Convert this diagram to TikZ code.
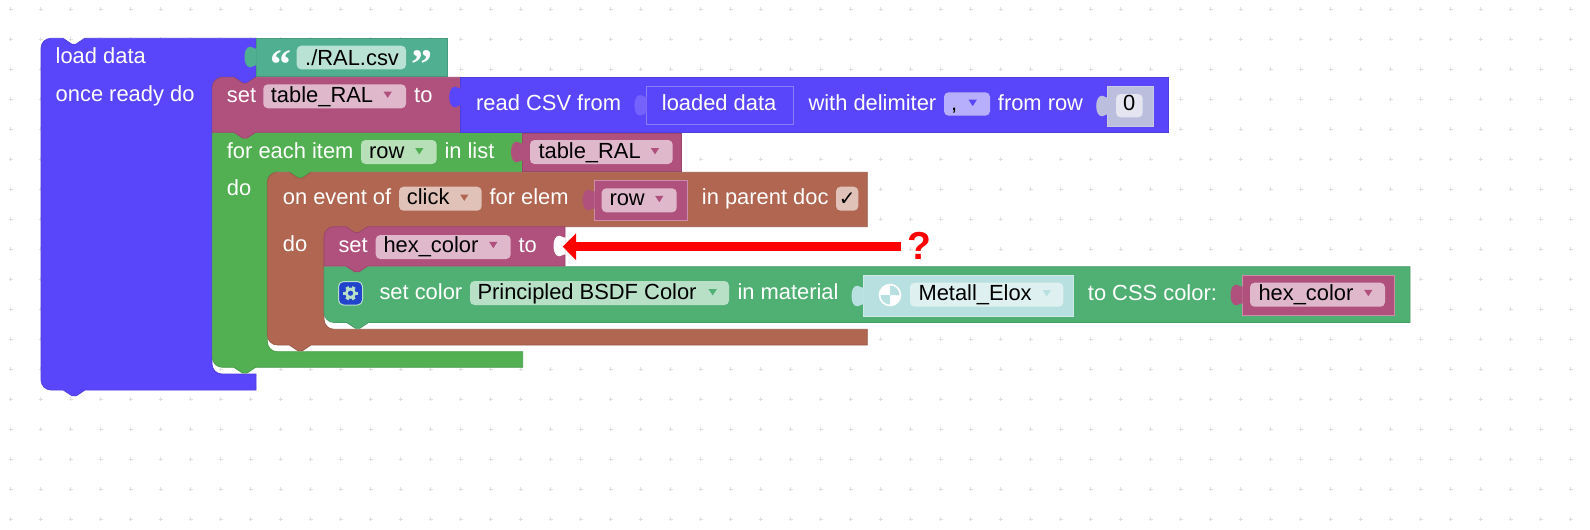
\documentclass[tikz,border=0pt]{standalone}
\usepackage{fontspec}
\setmainfont{Liberation Sans}
\newfontfamily\chkfont{DejaVu Sans}
\newfontfamily\quotefont{Liberation Serif}
\usetikzlibrary{arrows.meta}
\definecolor{cBlue}{RGB}{90,70,250}
\definecolor{cTeal}{RGB}{80,175,145}
\definecolor{cPink}{RGB}{176,80,125}
\definecolor{cGreen}{RGB}{82,176,82}
\definecolor{cBrown}{RGB}{176,102,80}
\definecolor{cMid}{RGB}{80,176,115}
\definecolor{cMetal}{RGB}{184,224,224}
\definecolor{cGrey}{RGB}{187,190,221}
\definecolor{fTeal}{RGB}{185,225,212}
\definecolor{fPink}{RGB}{224,184,204}
\definecolor{fGreen}{RGB}{184,224,184}
\definecolor{fBrown}{RGB}{224,194,184}
\definecolor{fBlue}{RGB}{184,175,252}
\definecolor{fMid}{RGB}{184,224,199}
\definecolor{fMetal}{RGB}{222,240,240}
\definecolor{fGrey}{RGB}{228,229,241}
\definecolor{cGear}{RGB}{34,68,204}
\tikzset{
  x=1pt,y=-1pt,
  blk/.style={fill=#1,draw=#1!88!black,line width=.7pt},
  notchR/.style={insert path={-- ++(8.7,5.8) -- ++(4.35,0) -- ++(8.7,-5.8)}},
  notchL/.style={insert path={-- ++(-8.7,5.8) -- ++(-4.35,0) -- ++(-8.7,-5.8)}},
  lbl/.style={anchor=base west,inner sep=0pt,text=white,font=\fontsize{21.9}{24}\selectfont},
  val/.style={anchor=base west,inner sep=0pt,text=black,font=\fontsize{21.9}{24}\selectfont},
  quotemark/.style={anchor=base,inner sep=0pt,text=white,font=\quotefont\bfseries\fontsize{42}{42}\selectfont},
  dotmark/.style={draw=black!13,line width=1pt},
}
% tab: x of the block edge, y of the lower end of the tab, colour
\newcommand\tabat[3]{\fill[#3,shift={(#1,#2)}] (0.2,-1.5) .. controls (-1,-3.5) and (-3,-0.5) .. (-6,-0.2) .. controls (-10,0) and (-12,-5) .. (-12,-10.5) .. controls (-12,-16) and (-10,-21) .. (-6,-20.8) .. controls (-3,-20.5) and (-1,-17.5) .. (0.2,-19.5) -- cycle;}
\newcommand\valbox[6]{\draw[fill=#5,draw=#6,line width=.8pt] (#1,#2) rectangle (#3,#4);}
\newcommand\field[5]{\fill[#5,rounded corners=4.5pt] (#1,#2) rectangle (#3,#4);}
\newcommand\ddtri[3]{\fill[#3,shift={(#1,#2)}] (-4.2,-3) -- (4.2,-3) -- (0,3.4) -- cycle;}
\begin{document}
\begin{tikzpicture}
\useasboundingbox (0,0) rectangle (1590,530);
\fill[white] (0,0) rectangle (1590,530);
% background grid
\foreach \gx in {0,...,52}{\foreach \gy in {0,...,17}{
  \draw[dotmark] ({10.7+30*\gx-2},{9.3+30*\gy}) -- ++(4,0) ({10.7+30*\gx},{9.3+30*\gy-2}) -- ++(0,4);}}
% load data block
\path[blk=cBlue] (41,48) .. controls (41,42.5) and (45.5,38.3) .. (51,38.3) -- (63,38.3) [notchR] -- (256,38.3) -- (256,77) -- (255.75,77) [notchL] -- (222,77) .. controls (216.5,77) and (212,81.5) .. (212,87) -- (212,364) .. controls (212,369.5) and (216.5,374) .. (222,374) -- (256,374) -- (256,390) -- (85,390) [notchL] -- (51,390) .. controls (45.5,390) and (41,385.5) .. (41,380) -- cycle;
% text value
\path[blk=cTeal] (256,38.3) rectangle (447.7,76.7);
\tabat{256.5}{67.5}{cTeal}
\field{296.7}{45.7}{406}{69.3}{fTeal}
\node[val] (csv) at (305,65) {./RAL.csv};
\node[quotemark] (qo) at (280.5,78.5) {“};
\node[quotemark] (qc) at (422,78.5) {”};
\node[lbl] (load) at (55.5,63.3) {load data};
\node[lbl] (once) at (55.5,101.7) {once ready do};
% for each block
\path[blk=cGreen] (212.3,132.3) -- (522.5,132.3) -- (522.5,171.7) -- (311.05,171.7) [notchL] -- (277.3,171.7) .. controls (271.8,171.7) and (267.3,176.2) .. (267.3,181.7) -- (267.3,341.7) .. controls (267.3,347.2) and (271.8,351.7) .. (277.3,351.7) -- (522.7,351.7) -- (522.7,367.3) -- (255.6,367.3) [notchL] -- (222.3,367.3) .. controls (216.8,367.3) and (212.3,362.8) .. (212.3,357.3) -- cycle;
% set table_RAL block
\path[blk=cPink] (212.3,87.3) .. controls (212.3,81.8) and (216.8,77.3) .. (222.3,77.3) -- (234,77.3) [notchR] -- (460.5,77.3) -- (460.5,132.3) -- (255.75,132.3) [notchL] -- (212.3,132.3) -- cycle;
\node[lbl] (set1) at (226.7,102.3) {set};
\field{263.3}{84.3}{406}{108.3}{fPink}
\node[val] (tr1) at (270.7,102.3) {table\_RAL};
\ddtri{387.7}{94.5}{cPink}
\node[lbl] (to1) at (414,102.3) {to};
% read CSV block
\path[blk=cBlue] (460.7,77.3) rectangle (1168.7,132.3);
\tabat{461.2}{107.5}{cBlue}
\node[lbl] (read) at (476,110.7) {read CSV from};
\valbox{646}{86}{793.3}{124}{cBlue}{cBlue!70!white}
\tabat{646.4}{115.8}{cBlue!85!white}
\node[lbl] (loaded) at (661.7,110.7) {loaded data};
\node[lbl] (delim) at (808.3,110.7) {with delimiter};
\field{944}{92.3}{990}{115.7}{fBlue}
\node[val] (comma) at (951,110.7) {,};
\ddtri{972.7}{102.7}{cBlue}
\node[lbl] (fromrow) at (997.7,110.7) {from row};
\valbox{1107.7}{86}{1153.3}{126}{cGrey}{cGrey!80!white}
\tabat{1108.2}{116.5}{cGrey}
\field{1116}{94}{1142.7}{117.3}{fGrey}
\node[val,anchor=base] (zero) at (1129.3,110.7) {0};
% for each contents
\node[lbl] (foreach) at (226.7,158.3) {for each item};
\field{361}{140}{436.7}{164}{fGreen}
\node[val] (row1) at (369,158.3) {row};
\ddtri{419.3}{151}{cGreen}
\node[lbl] (inlist) at (444.3,158.3) {in list};
\path[blk=cPink] (522.5,133.3) rectangle (681.7,171);
\tabat{523}{162.5}{cPink}
\field{530}{140}{672.7}{164}{fPink}
\node[val] (tr2) at (538.3,158.3) {table\_RAL};
\ddtri{655}{151}{cPink}
\node[lbl] (do1) at (226.7,195) {do};
% on event block
\path[blk=cBrown] (267.3,182.3) .. controls (267.3,176.8) and (271.8,172.3) .. (277.3,172.3) -- (289.3,172.3) [notchR] -- (867.3,172.3) -- (867.3,226.7) -- (367.75,226.7) [notchL] -- (334,226.7) .. controls (328.5,226.7) and (324,231.2) .. (324,236.7) -- (324,319.3) .. controls (324,324.8) and (328.5,329.3) .. (334,329.3) -- (867.3,329.3) -- (867.3,345) -- (311.05,345) [notchL] -- (277.3,345) .. controls (271.8,345) and (267.3,340.5) .. (267.3,335) -- cycle;
\node[lbl] (onevent) at (282.7,204.3) {on event of};
\field{399}{186.7}{481.7}{210.7}{fBrown}
\node[val] (click) at (406.7,204.3) {click};
\ddtri{464.3}{197.5}{cBrown}
\node[lbl] (forelem) at (489.3,204.3) {for elem};
\valbox{594}{180}{687.3}{220}{cPink}{cPink!65!white}
\tabat{594.5}{210.5}{cPink}
\field{601.7}{188.3}{676.7}{212.3}{fPink}
\node[val] (row2) at (609.3,205.7) {row};
\ddtri{659.3}{198.8}{cPink}
\node[lbl] (parent) at (701.7,204.3) {in parent doc};
\field{836}{186.7}{858.3}{210.7}{fBrown}
\node[inner sep=0pt,text=black,font=\chkfont\fontsize{20}{22}\selectfont] (chk) at (847.3,199) {✓};
\node[lbl] (do2) at (282.7,251) {do};
% set color block
\path[blk=cMid] (324,266.7) -- (1410,266.7) -- (1410,322.5) -- (368.5,322.5) [notchL] -- (334,322.5) .. controls (328.5,322.5) and (324,318) .. (324,312.5) -- cycle;
% set hex_color block
\path[blk=cPink] (324,236.7) .. controls (324,231.2) and (328.5,226.7) .. (334,226.7) -- (346,226.7) [notchR] -- (565,226.7) -- (565,266) -- (367.75,266) [notchL] -- (324,266) -- cycle;
\tabat{565.5}{256.5}{white}
\node[lbl] (set2) at (338.3,252.3) {set};
\field{375.7}{235}{510.7}{259}{fPink}
\node[val] (hex1) at (383.3,252.3) {hex\_color};
\ddtri{493.3}{244.8}{cPink}
\node[lbl] (to2) at (518.3,252.3) {to};
\coordinate (socket) at (562.7,246.7);
% arrow and question mark
\node[anchor=base west,inner sep=0pt,text=red,font=\bfseries\fontsize{39}{40}\selectfont] (qm) at (907.5,259.5) {?};
\coordinate (arrowstart) at (901,246.7);
\draw[-{Triangle[length=13.3pt,width=26pt]},red,line width=8.7pt] (arrowstart) -- (socket);
% set color contents
\fill[cGear,rounded corners=5pt,draw=fMid,line width=1pt] (338.5,281.5) rectangle (362.5,305);
\foreach \ga in {0,60,120}{\draw[fMid,line width=3.4pt] (350.5,293.2) ++(\ga:7.2) -- ++(\ga+180:14.4);}
\fill[fMid] (350.5,293.2) circle (5.6);
\fill[cGear] (350.5,293.2) circle (2.6);
\node[lbl] (setcol) at (379.3,299.3) {set color};
\field{470}{281}{729}{305}{fMid}
\node[val] (bsdf) at (477.3,299.3) {Principled BSDF Color};
\ddtri{712.7}{292}{cMid}
\node[lbl] (inmat) at (737.3,299.3) {in material};
\valbox{863}{275}{1073.3}{316.7}{cMetal}{cMetal!70!white}
\tabat{863.5}{306.5}{cMetal}
\fill[white] (890,295) circle (11.3);
\fill[cMetal] (890,295) -- (880.5,295) arc[start angle=180,end angle=90,radius=9.5] -- cycle;
\fill[cMetal] (890,295) -- (899.5,295) arc[start angle=0,end angle=-90,radius=9.5] -- cycle;
\field{910}{282.7}{1063.3}{306.7}{fMetal}
\node[val] (metal) at (918.3,300.7) {Metall\_Elox};
\ddtri{1046.7}{293}{cMetal}
\node[lbl] (tocss) at (1087.7,300) {to CSS color:};
\valbox{1242}{275}{1394.3}{315}{cPink}{cPink!65!white}
\tabat{1242.5}{305.5}{cPink}
\field{1250}{282.7}{1385}{306.7}{fPink}
\node[val] (hex2) at (1258.3,300.7) {hex\_color};
\ddtri{1368.3}{292.8}{cPink}
\end{tikzpicture}
\end{document}
